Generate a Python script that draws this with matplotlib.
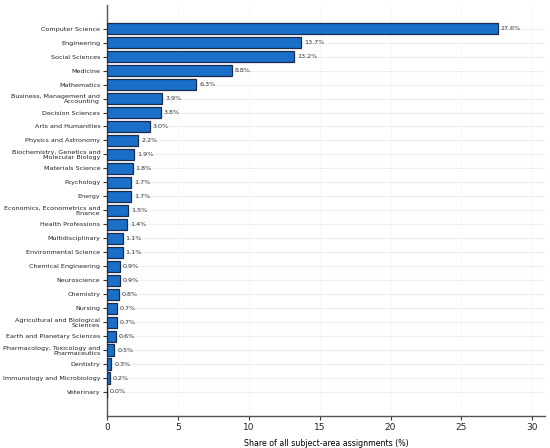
import matplotlib
matplotlib.use("Agg")
import matplotlib.pyplot as plt
import numpy as np

categories = [
    "Computer Science", "Engineering", "Social Sciences", "Medicine", "Mathematics",
    "Business, Management and\nAccounting", "Decision Sciences", "Arts and Humanities",
    "Physics and Astronomy", "Biochemistry, Genetics and\nMolecular Biology",
    "Materials Science", "Psychology", "Energy", "Economics, Econometrics and\nFinance",
    "Health Professions", "Multidisciplinary", "Environmental Science",
    "Chemical Engineering", "Neuroscience", "Chemistry", "Nursing",
    "Agricultural and Biological\nSciences", "Earth and Planetary Sciences",
    "Pharmacology, Toxicology and\nPharmaceutics", "Dentistry",
    "Immunology and Microbiology", "Veterinary",
]
shares = [27.6, 13.7, 13.2, 8.8, 6.3, 3.9, 3.8, 3.0, 2.2, 1.9, 1.8, 1.7, 1.7, 1.5,
          1.4, 1.1, 1.1, 0.9, 0.9, 0.8, 0.7, 0.7, 0.6, 0.5, 0.3, 0.2, 0.0]
xticks = [0, 5, 10, 15, 20, 25, 30]

fig = plt.figure(figsize=(5.5, 4.48), dpi=100)
ax = fig.add_axes([0.195, 0.072, 0.796, 0.917])

y = np.arange(len(categories))
ax.barh(y, shares, height=0.8, color="#1a6fc9", edgecolor="#1b2b4b",
        linewidth=0.9, zorder=3)
for yi, v in zip(y, shares):
    ax.text(v + 0.2, yi, f"{v:.1f}%", va="center", ha="left", fontsize=4.6,
            color="#333333", zorder=4)

ax.set_yticks(y)
ax.set_yticklabels(categories, fontsize=4.6, linespacing=1.05)
ax.set_ylim(len(categories) - 1 + 1.7, -1.7)
ax.set_xlim(0, max(shares) * 1.12)
ax.set_xticks(xticks)
ax.set_xticklabels([str(t) for t in xticks], fontsize=6.5)
ax.set_xlabel("Share of all subject-area assignments (%)", fontsize=5.7, labelpad=5)

ax.tick_params(axis="y", length=3, width=0.8, pad=2, colors="#333333")
ax.tick_params(axis="x", length=3, width=0.8, pad=2, colors="#333333")
for lbl in ax.get_yticklabels() + ax.get_xticklabels():
    lbl.set_color("#222222")

ax.grid(axis="y", color="#eceef2", linewidth=0.8, zorder=0)
ax.grid(axis="x", color="#ebebeb", linewidth=0.5, linestyle=(0, (2, 2)), zorder=0)
ax.set_axisbelow(True)

for s in ["top", "right"]:
    ax.spines[s].set_visible(False)
for s in ["left", "bottom"]:
    ax.spines[s].set_color("#555555")
    ax.spines[s].set_linewidth(1.0)

fig.savefig("out.png", dpi=100)
